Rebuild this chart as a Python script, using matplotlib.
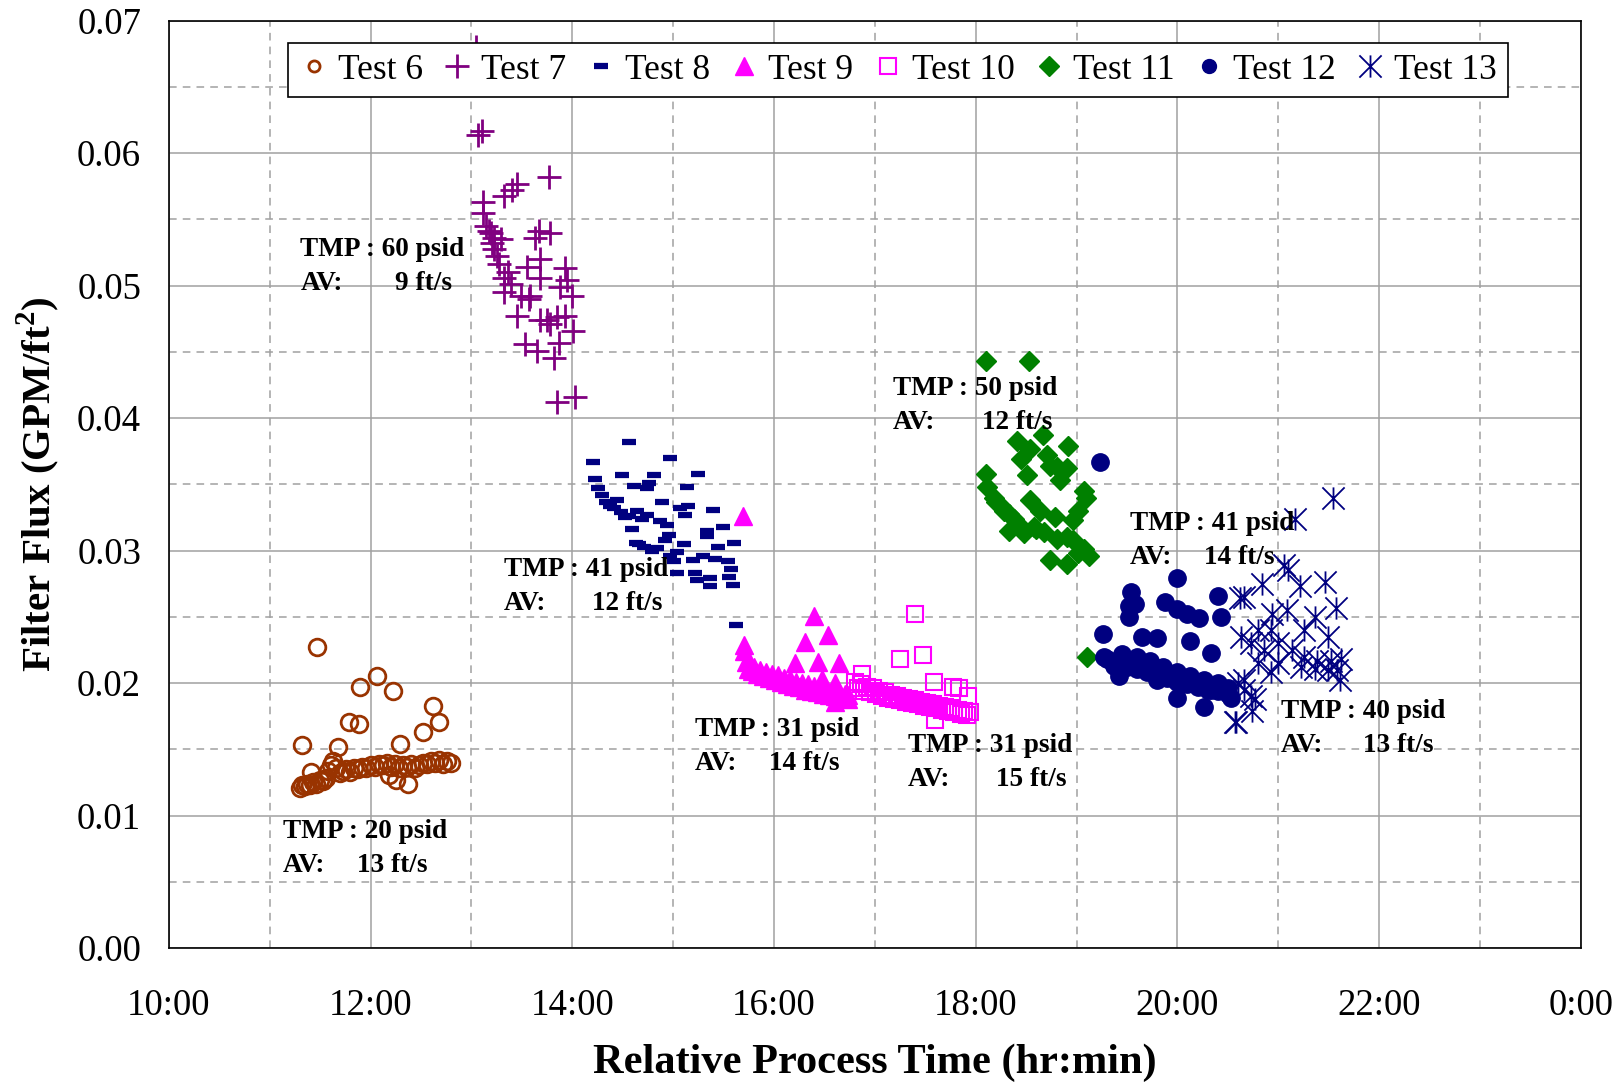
import numpy as np
import matplotlib
matplotlib.use("Agg")
import matplotlib.pyplot as plt
from matplotlib.path import Path
from matplotlib.ticker import MultipleLocator, FuncFormatter

plt.rcParams["font.family"] = "Liberation Serif"
plt.rcParams["mathtext.fontset"] = "custom"
plt.rcParams["mathtext.rm"] = "Liberation Serif"
plt.rcParams["mathtext.bf"] = "Liberation Serif:bold"

# process time in decimal hours, flux in GPM/ft2
t6_h = [11.30, 11.32, 11.35, 11.37, 11.40, 11.43, 11.46, 11.50, 11.53, 11.56, 11.58, 11.61,
        11.63, 11.66, 11.70, 11.73, 11.76, 11.80, 11.84, 11.88, 11.92, 11.96, 12.00, 12.04,
        12.08, 12.12, 12.16, 12.20, 12.24, 12.28, 12.32, 12.36, 12.40, 12.44, 12.48, 12.52,
        12.56, 12.60, 12.64, 12.68, 12.72, 12.76, 12.80,
        11.47, 12.06, 11.90, 12.22, 11.79, 11.89, 12.62, 12.68, 11.32, 11.68, 12.29, 12.52,
        11.41, 12.18, 12.25, 12.37]
t6_f = [0.0121, 0.0123, 0.0122, 0.0124, 0.0123, 0.0125, 0.0124, 0.0127, 0.0126, 0.0128, 0.0134, 0.0138,
        0.0141, 0.0136, 0.0132, 0.0134, 0.0135, 0.0133, 0.0136, 0.0135, 0.0137, 0.0136, 0.0138, 0.0137,
        0.0139, 0.0138, 0.0140, 0.0137, 0.0139, 0.0136, 0.0138, 0.0137, 0.0139, 0.0136, 0.0138, 0.0140,
        0.0139, 0.0141, 0.0140, 0.0142, 0.0139, 0.0141, 0.0140,
        0.0227, 0.0205, 0.0197, 0.0194, 0.0171, 0.0169, 0.0183, 0.0171, 0.0153, 0.0152, 0.0154, 0.0163,
        0.0133, 0.0131, 0.0127, 0.0124]

t7_h = [13.05, 13.07, 13.11, 13.77, 13.45, 13.40, 13.32, 13.12, 13.12, 13.17, 13.22, 13.29,
        13.67, 13.78, 13.63, 13.22, 13.68, 13.27, 13.55, 13.93, 13.32, 13.68, 13.95, 13.39,
        13.88, 13.32, 13.49, 13.57, 14.00, 13.45, 13.75, 13.85, 13.93, 14.01, 13.87, 13.53,
        13.65, 13.82, 13.85, 14.03, 13.19, 13.68, 13.78, 13.58, 13.15, 13.20, 13.25, 13.36]
t7_f = [0.0680, 0.0614, 0.0617, 0.0582, 0.0577, 0.0572, 0.0568, 0.0563, 0.0555, 0.0541, 0.0536, 0.0535,
        0.0541, 0.0540, 0.0536, 0.0528, 0.0520, 0.0516, 0.0514, 0.0513, 0.0506, 0.0506, 0.0504, 0.0501,
        0.0499, 0.0495, 0.0492, 0.0490, 0.0492, 0.0477, 0.0474, 0.0476, 0.0477, 0.0466, 0.0457, 0.0456,
        0.0451, 0.0445, 0.0412, 0.0416, 0.0540, 0.0474, 0.0471, 0.0492, 0.0545, 0.0532, 0.0522, 0.0510]

t8_h = [14.56, 14.21, 14.97, 14.49, 14.81, 15.25, 14.23, 14.61, 14.76, 14.74, 15.14, 14.26,
        14.30, 14.44, 14.89, 14.33, 15.07, 15.15, 15.40, 14.41, 14.48, 14.64, 14.56, 14.69,
        14.74, 15.12, 14.87, 14.94, 14.59, 15.49, 15.34, 14.96, 15.34, 14.92, 14.63, 15.60,
        14.71, 14.84, 15.11, 15.45, 15.04, 14.97, 15.30, 15.20, 15.42, 15.54, 15.01, 15.57,
        15.04, 15.22, 15.37, 15.55, 15.24, 15.37, 15.59, 15.62, 14.37, 14.52, 14.66, 14.79]
t8_f = [0.0382, 0.0367, 0.0370, 0.0357, 0.0357, 0.0358, 0.0354, 0.0349, 0.0351, 0.0347, 0.0348, 0.0347,
        0.0342, 0.0338, 0.0337, 0.0337, 0.0332, 0.0334, 0.0331, 0.0332, 0.0329, 0.0330, 0.0326, 0.0324,
        0.0327, 0.0327, 0.0322, 0.0319, 0.0316, 0.0318, 0.0315, 0.0312, 0.0311, 0.0308, 0.0306, 0.0306,
        0.0303, 0.0302, 0.0305, 0.0303, 0.0299, 0.0296, 0.0296, 0.0293, 0.0294, 0.0292, 0.0292, 0.0286,
        0.0283, 0.0283, 0.0279, 0.0280, 0.0278, 0.0273, 0.0274, 0.0244, 0.0334, 0.0325, 0.0305, 0.0300]

t9_h = [15.70, 15.72, 15.74, 15.76, 15.78, 15.80, 15.83, 15.86, 15.89, 15.92, 15.95, 15.98,
        16.01, 16.04, 16.07, 16.10, 16.13, 16.16, 16.19, 16.22, 16.25, 16.28, 16.31, 16.34,
        16.37, 16.40, 16.43, 16.46, 16.49, 16.52, 16.55, 16.58, 16.61, 16.64, 16.67, 16.70,
        16.73,
        15.69, 16.40, 16.54, 16.31, 16.21, 16.44, 16.65, 16.48, 16.61, 16.61, 16.73, 15.70]
t9_f = [0.0224, 0.0216, 0.0211, 0.0213, 0.0209, 0.0212, 0.0207, 0.0210, 0.0205, 0.0208, 0.0204, 0.0207,
        0.0202, 0.0206, 0.0201, 0.0204, 0.0199, 0.0203, 0.0198, 0.0201, 0.0197, 0.0200, 0.0195, 0.0199,
        0.0194, 0.0198, 0.0193, 0.0196, 0.0192, 0.0195, 0.0191, 0.0194, 0.0190, 0.0193, 0.0189, 0.0192,
        0.0188,
        0.0326, 0.0251, 0.0236, 0.0231, 0.0215, 0.0216, 0.0215, 0.0203, 0.0200, 0.0186, 0.0191, 0.0229]

t10_h = [16.80, 16.83, 16.86, 16.89, 16.92, 16.95, 16.98, 17.01, 17.04, 17.07, 17.10, 17.13,
         17.16, 17.19, 17.22, 17.25, 17.28, 17.31, 17.34, 17.37, 17.40, 17.43, 17.46, 17.49,
         17.52, 17.55, 17.58, 17.61, 17.64, 17.67, 17.70, 17.73, 17.76, 17.79, 17.82, 17.85,
         17.88, 17.91, 17.94,
         17.40, 17.25, 17.48, 16.87, 17.59, 17.78, 17.83, 17.92, 17.60]
t10_f = [0.0201, 0.0196, 0.0199, 0.0194, 0.0197, 0.0193, 0.0196, 0.0192, 0.0194, 0.0190, 0.0193, 0.0189,
         0.0191, 0.0188, 0.0190, 0.0187, 0.0189, 0.0186, 0.0188, 0.0185, 0.0187, 0.0184, 0.0186, 0.0183,
         0.0185, 0.0182, 0.0184, 0.0181, 0.0183, 0.0180, 0.0182, 0.0179, 0.0181, 0.0178, 0.0180, 0.0177,
         0.0179, 0.0176, 0.0178,
         0.0252, 0.0218, 0.0221, 0.0207, 0.0201, 0.0197, 0.0196, 0.0190, 0.0172]

t11_h = [18.10, 18.53, 18.41, 18.54, 18.67, 18.92, 18.45, 18.71, 18.10, 18.51, 18.74, 18.81,
         18.84, 18.91, 19.07, 19.09, 18.11, 18.18, 18.25, 18.54, 18.33, 18.38, 18.64, 18.79,
         19.01, 18.97, 18.33, 18.48, 18.58, 18.68, 18.81, 18.91, 18.97, 19.07, 19.12, 18.74,
         18.91, 19.01, 19.10, 18.20, 18.28, 18.42, 18.60]
t11_f = [0.0443, 0.0443, 0.0383, 0.0377, 0.0387, 0.0379, 0.0369, 0.0372, 0.0358, 0.0357, 0.0364, 0.0363,
         0.0353, 0.0362, 0.0345, 0.0340, 0.0348, 0.0340, 0.0334, 0.0338, 0.0328, 0.0324, 0.0330, 0.0325,
         0.0330, 0.0323, 0.0315, 0.0313, 0.0318, 0.0314, 0.0309, 0.0310, 0.0308, 0.0301, 0.0296, 0.0293,
         0.0290, 0.0298, 0.0220, 0.0337, 0.0330, 0.0320, 0.0316]

t12_h = [19.23, 20.00, 19.54, 20.40, 19.52, 19.58, 19.88, 20.00, 20.10, 20.21, 20.43, 19.52,
         19.26, 19.65, 19.80, 20.13, 20.33, 19.27, 19.45, 19.60, 19.73, 19.37, 19.50, 19.86,
         20.00, 19.42, 19.70, 20.13, 20.26, 19.80, 20.04, 20.40, 20.50, 20.00, 20.26, 20.53,
         20.33, 20.17,
         19.30, 19.40, 19.50, 19.60, 19.70, 19.80, 19.90, 20.00, 20.10, 20.20, 20.30, 20.40, 20.50]
t12_f = [0.0367, 0.0279, 0.0269, 0.0266, 0.0258, 0.0260, 0.0261, 0.0256, 0.0252, 0.0249, 0.0250, 0.0250,
         0.0237, 0.0235, 0.0234, 0.0232, 0.0223, 0.0220, 0.0222, 0.0220, 0.0217, 0.0213, 0.0212, 0.0212,
         0.0208, 0.0205, 0.0208, 0.0205, 0.0202, 0.0202, 0.0200, 0.0200, 0.0196, 0.0189, 0.0182, 0.0189,
         0.0195, 0.0200,
         0.0218, 0.0216, 0.0214, 0.0211, 0.0209, 0.0206, 0.0204, 0.0201, 0.0199, 0.0197, 0.0195, 0.0194, 0.0192]

t13_h = [21.54, 21.17, 21.06, 21.10, 20.84, 21.46, 21.22, 20.66, 21.57, 20.94, 21.09, 21.36,
         20.63, 20.80, 20.93, 21.26, 21.49, 20.73, 21.00, 21.14, 20.86, 21.26, 21.38, 21.52,
         21.62, 20.80, 21.00, 21.23, 21.36, 21.49, 21.58, 20.66, 20.93, 20.73, 21.61, 20.58,
         20.74, 20.60, 20.66, 20.62, 20.77, 20.57]
t13_f = [0.0340, 0.0324, 0.0289, 0.0285, 0.0275, 0.0276, 0.0273, 0.0265, 0.0257, 0.0252, 0.0255, 0.0250,
         0.0235, 0.0240, 0.0240, 0.0240, 0.0235, 0.0230, 0.0230, 0.0225, 0.0225, 0.0220, 0.0217, 0.0217,
         0.0218, 0.0215, 0.0215, 0.0212, 0.0211, 0.0210, 0.0210, 0.0202, 0.0208, 0.0190, 0.0202, 0.0171,
         0.0179, 0.0200, 0.0195, 0.0264, 0.0188, 0.0171]

test_names = ["Test 6", "Test 7", "Test 8", "Test 9", "Test 10", "Test 11", "Test 12", "Test 13"]

# operating conditions written next to each cluster
tmp_labels = ["TMP : 20 psid", "TMP : 60 psid", "TMP : 41 psid", "TMP : 31 psid",
              "TMP : 31 psid", "TMP : 50 psid", "TMP : 41 psid", "TMP : 40 psid"]
av_labels = ["13 ft/s", "9 ft/s", "12 ft/s", "14 ft/s", "15 ft/s", "12 ft/s", "14 ft/s", "13 ft/s"]

# excel style star: an x crossed by a vertical bar
star = Path([(-1, -1), (1, 1), (-1, 1), (1, -1), (0, -1), (0, 1)],
            [Path.MOVETO, Path.LINETO, Path.MOVETO, Path.LINETO, Path.MOVETO, Path.LINETO])

styles = [
    dict(marker="o", ms=12, mfc="none", mec="#993300", mew=2),
    dict(marker="+", ms=17, mec="#800080", mew=2),
    dict(marker="_", ms=9.5, mec="#000080", mew=4.5),
    dict(marker="^", ms=13, mfc="#FF00FF", mec="#FF00FF", mew=1),
    dict(marker="s", ms=11, mfc="none", mec="#FF00FF", mew=1.5),
    dict(marker="D", ms=10, mfc="#008000", mec="#008000", mew=1),
    dict(marker="o", ms=12.5, mfc="#000080", mec="#000080", mew=1),
    dict(marker=star, ms=16, mfc="none", mec="#000080", mew=1.3),
]
# legend keys are drawn a little smaller for the round ones
legend_ms = [8, 17, 9.5, 13, 11, 10, 10, 16]

series = [(t6_h, t6_f), (t7_h, t7_f), (t8_h, t8_f), (t9_h, t9_f),
          (t10_h, t10_f), (t11_h, t11_f), (t12_h, t12_f), (t13_h, t13_f)]

# label anchors (hours, flux) for the TMP line and the x of the AV value
label_pos = [(11.129, 0.00883, 11.869), (11.304, 0.05273, 12.238), (13.326, 0.02859, 14.199),
             (15.216, 0.01648, 15.955), (17.331, 0.01531, 18.203), (17.177, 0.04227, 18.060),
             (19.528, 0.03203, 20.267), (21.027, 0.01789, 21.838)]
line_gap = 0.00258

fig = plt.figure(figsize=(16.23, 10.86), dpi=100)
ax = fig.add_axes([0.104, 0.127, 0.870, 0.854])

for (h, f), name, st in zip(series, test_names, styles):
    ax.plot(h, f, linestyle="none", label=name, **st)

for (x0, y0, xv), tmp, av in zip(label_pos, tmp_labels, av_labels):
    ax.text(x0, y0, tmp, fontsize=19.6, fontweight="bold", va="center", ha="left")
    ax.text(x0, y0 - line_gap, "AV:", fontsize=19.6, fontweight="bold", va="center", ha="left")
    ax.text(xv, y0 - line_gap, av, fontsize=19.6, fontweight="bold", va="center", ha="left")

ax.set_xlim(10, 24)
ax.set_ylim(0, 0.07)
ax.xaxis.set_major_locator(MultipleLocator(2))
ax.xaxis.set_minor_locator(MultipleLocator(1))
ax.yaxis.set_major_locator(MultipleLocator(0.01))
ax.yaxis.set_minor_locator(MultipleLocator(0.005))
ax.xaxis.set_major_formatter(FuncFormatter(lambda v, p: f"{int(round(v)) % 24}:00"))
ax.yaxis.set_major_formatter(FuncFormatter(lambda v, p: f"{v:.2f}"))

ax.grid(which="major", color="#a0a0a0", linewidth=1.1, linestyle="-", zorder=0)
ax.grid(which="minor", color="#a0a0a0", linewidth=1.1, linestyle=(0, (5, 4)), zorder=0)
ax.set_axisbelow(True)
ax.tick_params(which="both", length=0)
ax.tick_params(axis="x", labelsize=26.5, pad=29)
ax.tick_params(axis="y", labelsize=26.5, pad=20)
for s in ax.spines.values():
    s.set_color("black")
    s.set_linewidth(1.2)

ax.set_xlabel("Relative Process Time (hr:min)", fontsize=30.5, fontweight="bold", labelpad=15)
ax.set_ylabel(r"Filter Flux (GPM/ft$^\mathbf{2}$)", fontsize=29.5, fontweight="bold", labelpad=11)

leg = ax.legend(loc="upper left", bbox_to_anchor=(0.0845, 0.976), ncol=8, fontsize=25.5,
                frameon=True, fancybox=False, edgecolor="black", framealpha=1,
                handlelength=0.85, handletextpad=0.25, columnspacing=0.55, borderpad=0.3,
                borderaxespad=0)
leg.get_frame().set_linewidth(1.2)
leg.set_zorder(5)
for hnd, ms in zip(leg.legend_handles, legend_ms):
    hnd.set_markersize(ms)

fig.savefig("out.png", dpi=100)
